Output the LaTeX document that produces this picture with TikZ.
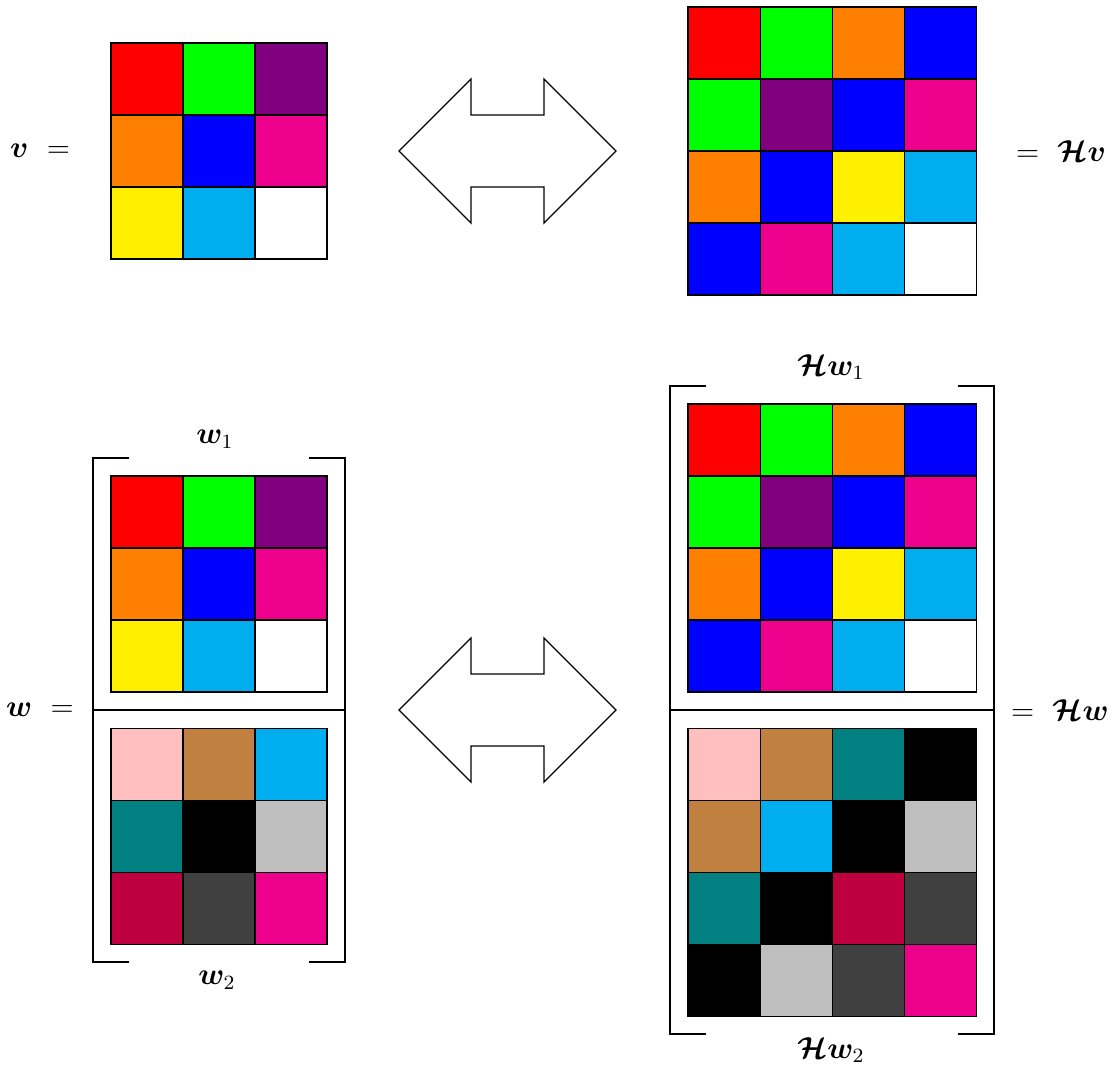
\documentclass[tikz,border=0pt]{standalone}
\usepackage{amsmath,bm}
\definecolor{cred}{RGB}{255,0,0}
\definecolor{cgreen}{RGB}{0,255,0}
\definecolor{cviolet}{RGB}{128,0,128}
\definecolor{corange}{RGB}{255,128,0}
\definecolor{cblue}{RGB}{0,0,255}
\definecolor{cmagenta}{RGB}{236,0,140}
\definecolor{cyellow}{RGB}{255,240,0}
\definecolor{ccyan}{RGB}{0,174,239}
\definecolor{cwhite}{RGB}{255,255,255}
\definecolor{cpink}{RGB}{255,191,191}
\definecolor{cbrown}{RGB}{191,128,64}
\definecolor{cteal}{RGB}{0,128,128}
\definecolor{cblack}{RGB}{0,0,0}
\definecolor{clgray}{RGB}{191,191,191}
\definecolor{cpurple}{RGB}{191,0,64}
\definecolor{cdgray}{RGB}{64,64,64}
\newcommand\cellgrid[4]{%
  \foreach \c [count=\i from 0] in {#4} {%
    \pgfmathtruncatemacro\rr{div(\i,#3)}%
    \pgfmathtruncatemacro\kk{mod(\i,#3)}%
    \filldraw[cellline,fill=\c] (#1+72*\kk,#2+72*\rr) rectangle ++(72,72);
  }%
}
\tikzset{
  cellline/.style={draw=black,line width=0.4pt},
  shapeline/.style={draw=black,line width=0.5pt,line join=miter},
  lbl/.style={inner sep=0pt,font=\large}
}
\begin{document}
\begin{tikzpicture}[x=0.0138889cm,y=-0.0138889cm]
\useasboundingbox (0,0) rectangle (1112,1068);
% top row
\cellgrid{111}{43}{3}{cred,cgreen,cviolet,corange,cblue,cmagenta,cyellow,ccyan,cwhite}
\cellgrid{688}{7}{4}{cred,cgreen,corange,cblue,cgreen,cviolet,cblue,cmagenta,corange,cblue,cyellow,ccyan,cblue,cmagenta,ccyan,cwhite}
\draw[shapeline] (399,151) -- (471,79) -- (471,115) -- (544,115) -- (544,79) -- (616,151) -- (544,223) -- (544,187) -- (471,187) -- (471,223) -- cycle;
\node[lbl] (vlbl) at (40,151) {$\bm{v}\ =$};
\node[lbl] (hvlbl) at (1061,151) {$=\ \bm{\mathcal{H}v}$};
% bottom left
\cellgrid{111}{476}{3}{cred,cgreen,cviolet,corange,cblue,cmagenta,cyellow,ccyan,cwhite}
\cellgrid{111}{728}{3}{cpink,cbrown,ccyan,cteal,cblack,clgray,cpurple,cdgray,cmagenta}
\draw[shapeline] (129,458) -- (93,458) -- (93,962) -- (129,962);
\draw[shapeline] (309,458) -- (345,458) -- (345,962) -- (309,962);
\draw[shapeline] (93,710) -- (345,710);
\node[lbl] (w1lbl) at (215,439) {$\bm{w}_1$};
\node[lbl] (w2lbl) at (217,980) {$\bm{w}_2$};
\node[lbl] (wlbl) at (40,710) {$\bm{w}\ =$};
% bottom right
\cellgrid{688}{404}{4}{cred,cgreen,corange,cblue,cgreen,cviolet,cblue,cmagenta,corange,cblue,cyellow,ccyan,cblue,cmagenta,ccyan,cwhite}
\cellgrid{688}{728}{4}{cpink,cbrown,cteal,cblack,cbrown,ccyan,cblack,clgray,cteal,cblack,cpurple,cdgray,cblack,clgray,cdgray,cmagenta}
\draw[shapeline] (706,386) -- (670,386) -- (670,1034) -- (706,1034);
\draw[shapeline] (958,386) -- (994,386) -- (994,1034) -- (958,1034);
\draw[shapeline] (670,710) -- (994,710);
\node[lbl] (hw1lbl) at (831,367) {$\bm{\mathcal{H}w}_1$};
\node[lbl] (hw2lbl) at (831,1050) {$\bm{\mathcal{H}w}_2$};
\node[lbl] (hwlbl) at (1060,710) {$=\ \bm{\mathcal{H}w}$};
\draw[shapeline] (399,710) -- (471,638) -- (471,674) -- (544,674) -- (544,638) -- (616,710) -- (544,782) -- (544,746) -- (471,746) -- (471,782) -- cycle;
\end{tikzpicture}
\end{document}
